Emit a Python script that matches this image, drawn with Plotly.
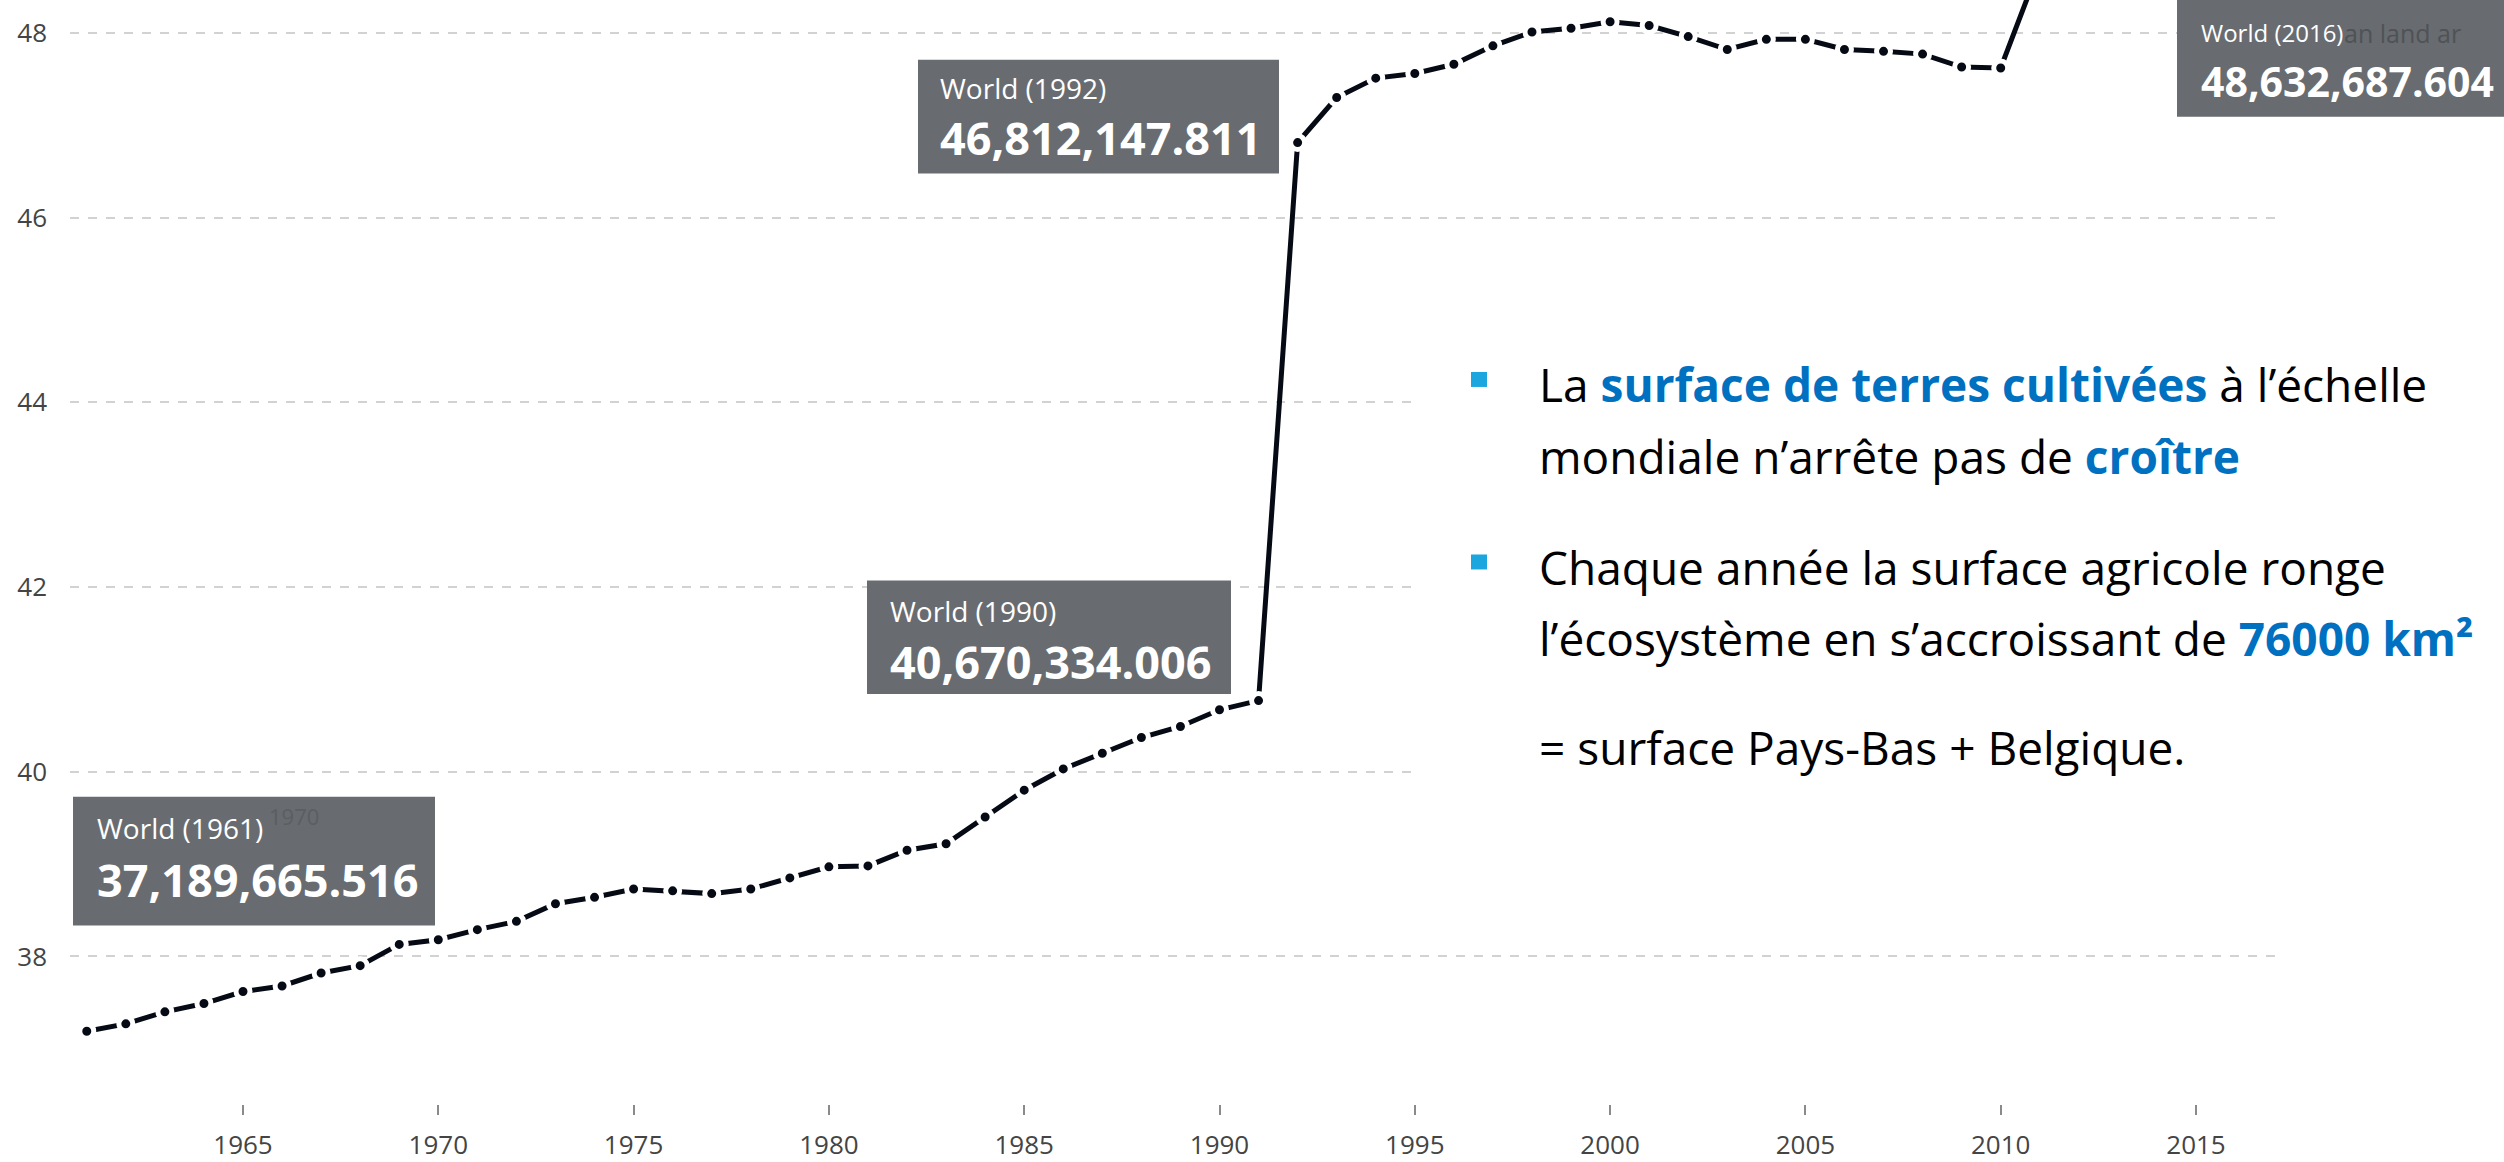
import plotly.graph_objects as go

# ---------------- data ----------------
years = list(range(1961, 2017))
agri_land_mkm2 = [
    37.189665516, 37.27, 37.40, 37.49, 37.62, 37.68, 37.82, 37.90, 38.13, 38.18,
    38.29, 38.38, 38.57, 38.64, 38.73, 38.71, 38.68, 38.73, 38.85, 38.97,
    38.98, 39.15, 39.22, 39.51, 39.80, 40.03, 40.20, 40.37, 40.49, 40.670334006,
    40.77, 46.812147811, 47.30, 47.51, 47.56, 47.66, 47.86, 48.01, 48.05, 48.12,
    48.08, 47.96, 47.82, 47.93, 47.93, 47.82, 47.80, 47.77, 47.63, 47.62,
    48.73, 48.70, 48.68, 48.66, 48.64, 48.632687604,
]
x_tick_vals = [1965, 1970, 1975, 1980, 1985, 1990, 1995, 2000, 2005, 2010, 2015]
y_tick_vals = [38, 40, 42, 44, 46, 48]
highlight_years = [1961, 1990, 1992, 2016]
series_name = "World"

# ---------------- layout helpers ----------------
W, H = 2504, 1162
L, R, T, B = 70, 228, 0, 55
PW, PH = W - L - R, H - T - B


def xp(px):
    return (px - L) / PW


def yp(py):
    return (H - B - py) / PH


fig = go.Figure()
fig.add_trace(go.Scatter(
    x=years, y=agri_land_mkm2, mode="lines+markers",
    line=dict(color="#050a14", width=5),
    marker=dict(size=14, color="#050a14", line=dict(color="white", width=5)),
    hoverinfo="skip", showlegend=False,
))

shapes = []
annotations = []

# tooltip boxes (pixel layout: box, title pos, number pos, title size, number size)
box_layout = {
    1961: ((73, 799, 435, 928), (95, 830), (95, 882), 28, 45),
    1990: ((867, 582, 1231, 696), (888, 613), (888, 663), 28, 45),
    1992: ((918, 60, 1279, 174), (938, 88), (938, 138), 28, 45),
    2016: ((2177, 0, 2540, 117), (2199, 33), (2199, 81), 24, 41),
}
BOX = "#686c70"
for yr in highlight_years:
    v = agri_land_mkm2[years.index(yr)]
    (bx0, by0, bx1, by1), (tx, ty), (nx, ny), ts, ns = box_layout[yr]
    shapes.append(dict(type="rect", xref="paper", yref="paper",
                       x0=xp(bx0), x1=xp(bx1), y0=yp(by1), y1=yp(by0),
                       fillcolor=BOX, line=dict(width=0), layer="above"))
    annotations.append(dict(xref="paper", yref="paper", x=xp(tx), y=yp(ty),
                            xanchor="left", yanchor="middle", showarrow=False,
                            text=f"{series_name} ({yr})",
                            font=dict(family="Open Sans", size=ts, color="white")))
    annotations.append(dict(xref="paper", yref="paper", x=xp(nx), y=yp(ny),
                            xanchor="left", yanchor="middle", showarrow=False,
                            text=f"<b>{v * 1e6:,.3f}</b>",
                            font=dict(family="Open Sans", size=ns, color="white")))

# faint ghost texts from the overlapped screenshot
annotations.append(dict(xref="paper", yref="paper", x=xp(267), y=yp(818),
                        xanchor="left", yanchor="middle", showarrow=False,
                        text="1970", font=dict(family="Open Sans", size=22, color="#5b5e62")))
annotations.append(dict(xref="paper", yref="paper", x=xp(2342), y=yp(33),
                        xanchor="left", yanchor="middle", showarrow=False,
                        text="an land ar", font=dict(family="Open Sans", size=25, color="#4f5256")))

# white text panel
shapes.append(dict(type="rect", xref="paper", yref="paper",
                   x0=xp(1420), x1=xp(2520), y0=yp(890), y1=yp(290),
                   fillcolor="white", line=dict(width=0), layer="above"))
BULLET = "#1ba6df"
for (by,) in [(373,), (556,)]:
    shapes.append(dict(type="rect", xref="paper", yref="paper",
                       x0=xp(1471), x1=xp(1487), y0=yp(by + 15), y1=yp(by),
                       fillcolor=BULLET, line=dict(width=0), layer="above"))

BLUE = "#0070c0"


def hl(s):
    return f"<span style='color:{BLUE}'><b>{s}</b></span>"


panel_lines = [
    (385, f"La {hl('surface de terres cultivées')} à l’échelle"),
    (457, f"mondiale n’arrête pas de {hl('croître')}"),
    (569, "Chaque année la surface agricole ronge"),
    (640, f"l’écosystème en s’accroissant de {hl('76000 km²')}"),
    (749, "= surface Pays-Bas + Belgique."),
]
for py, txt in panel_lines:
    annotations.append(dict(xref="paper", yref="paper", x=xp(1537), y=yp(py),
                            xanchor="left", yanchor="middle", showarrow=False,
                            text=txt, font=dict(family="Open Sans", size=46, color="#000000")))

fig.update_layout(
    width=W, height=H,
    margin=dict(l=L, r=R, t=T, b=B, pad=0),
    paper_bgcolor="white", plot_bgcolor="white",
    shapes=shapes, annotations=annotations,
    xaxis=dict(range=[1960.571, 2017.048], tickvals=x_tick_vals,
               ticks="outside", ticklen=10, tickwidth=2, tickcolor="#8a8a8a",
               showgrid=False, zeroline=False, showline=False,
               tickfont=dict(family="Open Sans", size=26, color="#444444"),
               ticklabelstandoff=8),
    yaxis=dict(range=[36.402, 48.356], tickvals=y_tick_vals,
               showgrid=True, gridcolor="#d2d2d2", gridwidth=2,
               griddash="9px,9px", zeroline=False, showline=False, ticks="",
               tickfont=dict(family="Open Sans", size=26, color="#444444"),
               ticklabelstandoff=22),
)

fig.write_html(
    "out.html",
    config={"displayModeBar": False},
    post_script="document.body.style.margin='0px';document.body.style.overflow='hidden';",
)
